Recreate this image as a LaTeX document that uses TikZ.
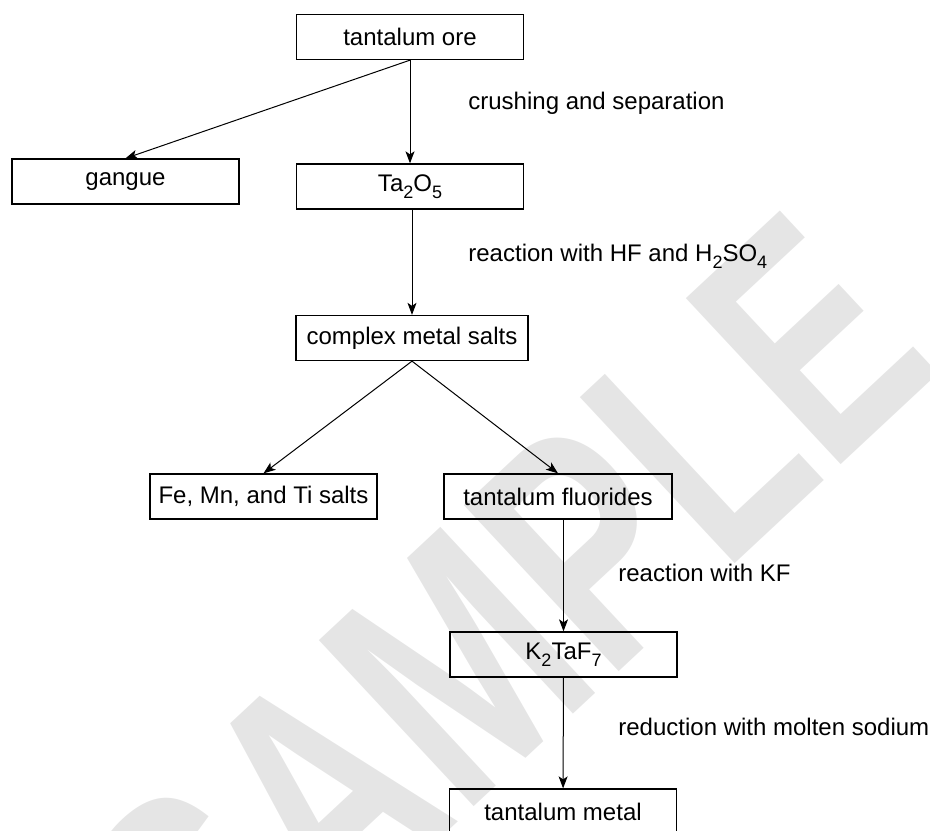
\documentclass[tikz,border=0pt]{standalone}
\usepackage{fontspec}
\setmainfont{Liberation Sans}
\usetikzlibrary{arrows.meta}
\newcommand{\sbs}[1]{\raisebox{-3.5pt}{\fontsize{9}{9}\selectfont #1}}

\begin{document}
\begin{tikzpicture}[x=0.5pt, y=-0.5pt]
		\tikzset{nd/.style={rectangle, draw=black, line width=0.65pt, minimum width=113.5pt, minimum height=22.5pt, inner sep=0pt, font=\fontsize{12}{14}\selectfont}};
		\tikzset{arr/.style={-{Stealth[length=6pt, width=4.5pt, inset=1.5pt]}, line width=0.5pt}};
		\tikzset{lbl/.style={anchor=west, inner sep=0pt, font=\fontsize{12}{14}\selectfont}};

		\useasboundingbox (0, 0) rectangle (930, 830);

		\node[rotate=43, text=black!10, font=\fontsize{165}{165}\selectfont\bfseries] (wm) at (506, 622) {\scalebox{0.72}[1]{SAMPLE}};

		\node[nd] (ore) at (410, 37) {tantalum ore};
		\node[nd] (gangue) at (125.5, 181.5) {gangue};
		\node[nd] (ta) at (410, 186.5) {Ta\sbs{2}O\sbs{5}};
		\node[nd, minimum width=116pt] (cms) at (412, 338) {complex metal salts};
		\node[nd] (fe) at (263.5, 496.5) {Fe, Mn, and Ti salts};
		\node[nd, minimum width=114pt] (tf) at (558, 496.5) {tantalum fluorides};
		\node[nd] (k2) at (563.5, 654.5) {K\sbs{2}TaF\sbs{7}};
		\node[nd] (tm) at (563, 811.5) {tantalum metal};

		\node[lbl] (crush) at (468, 103) {crushing and separation};
		\node[lbl] (acid) at (468, 256) {reaction with HF and H\sbs{2}SO\sbs{4}};
		\node[lbl] (kf) at (618, 573) {reaction with KF};
		\node[lbl] (na) at (618, 727) {reduction with molten sodium};

		\draw[arr] (ore.south) to (gangue.north);
		\draw[arr] (ore) to (ta);

		\draw[arr] (ta.south -| cms) to (cms);

		\draw[arr] (cms.south) to (fe.north);
		\draw[arr] (cms.south) to (tf.north);

		\draw[arr] (tf.south -| k2) to (k2);
		\draw[arr] (k2) to (tm);
	\end{tikzpicture}
\end{document}
